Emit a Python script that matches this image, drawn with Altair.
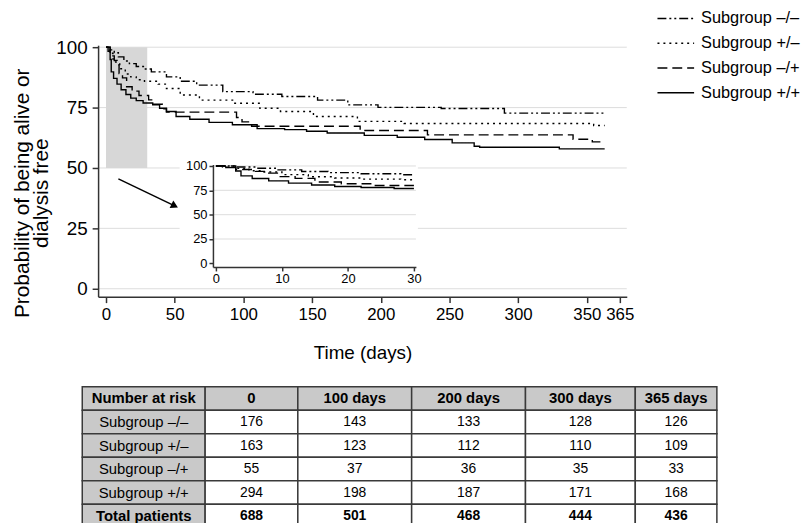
import altair as alt
import pandas as pd

# ---------------- data ----------------
groups = ["Subgroup –/–", "Subgroup +/–", "Subgroup –/+", "Subgroup +/+"]

# Kaplan-Meier step curves: time (days) and % alive or dialysis free
t_mm = [0, 3, 6, 9, 13, 17, 22, 28, 33, 44, 54, 66, 85, 107, 128, 154, 176, 198, 244, 290]
s_mm = [100, 98.9, 97.7, 96.0, 94.3, 93.2, 92.0, 91.0, 89.8, 87.7, 85.9, 84.3, 81.6, 80.5,
        79.6, 78.1, 76.1, 75.1, 74.6, 72.7]

t_pm = [0, 1, 3, 5, 7, 10, 14, 18, 22, 28, 38, 44, 54, 68, 93, 112, 127, 151, 183, 217, 355]
s_pm = [100, 98.8, 97.5, 95.1, 93.8, 91.1, 88.9, 87.7, 86.5, 85.9, 84.7, 82.9, 80.2, 78.1,
        76.8, 74.7, 73.4, 71.3, 69.3, 68.4, 67.6]

t_mp = [0, 3, 6, 8, 9.5, 12, 15, 19, 24, 31, 34, 41, 44, 95, 99, 106, 185, 234, 340, 354]
s_mp = [100, 96.4, 94.5, 92.7, 89.1, 87.3, 83.6, 81.8, 80.0, 78.2, 76.4, 74.5, 73.1, 70.9,
        69.1, 67.3, 65.5, 63.7, 61.9, 60.8]

t_pp = [0, 1.5, 3, 3.8, 5.5, 8, 11, 14.5, 18, 22, 27, 34, 39, 44, 51, 61, 75, 92, 110, 130,
        146, 161, 188, 212, 232, 252, 268, 272, 330]
s_pp = [100, 98.3, 94.9, 89.8, 87.1, 84.7, 82.4, 80.4, 78.9, 77.9, 76.9, 76.1, 74.7, 73.4,
        71.3, 70.2, 68.9, 67.9, 66.3, 65.9, 65.2, 64.5, 63.5, 62.7, 61.8, 60.4, 59.0, 58.6, 57.9]

t_end = 363          # last follow-up day drawn
inset_end = 30       # inset shows the first 30 days

# number-at-risk table
risk_times = ["0", "100 days", "200 days", "300 days", "365 days"]
risk_mm = [176, 143, 133, 128, 126]
risk_pm = [163, 123, 112, 110, 109]
risk_mp = [55, 37, 36, 35, 33]
risk_pp = [294, 198, 187, 171, 168]
risk_total = [688, 501, 468, 444, 436]

x_ticks = [0, 50, 100, 150, 200, 250, 300, 350]
last_tick_label = "365"
y_ticks = [0, 25, 50, 75, 100]
inset_x_ticks = [0, 10, 20, 30]

# annotation: zoom box (days, %) and arrow pointing to the inset
box = {"t0": 0, "t1": 30, "s0": 50, "s1": 100}
arrow = {"t0": 9, "s0": 45.5, "t1": 50, "s1": 34.3}

# ---------------- style / layout ----------------
FONT = "Liberation Sans"
PW, PH = 534, 254                      # main plot area
PAD = {"left": 91, "top": 35, "right": 179, "bottom": 226}
LAST_TICK_POS = 374                    # the reference draws "365" at the axis end
AXC = "#333333"
GRID = "#dddddd"
GRAY = "#c9c9c9"
dashes = [[9, 3, 2, 3, 2, 3], [2, 4], [10, 5], [1, 0]]
COL_W = [122, 92, 113, 113, 109, 81]

main_x = alt.Scale(domain=[-5.77, 379.1], range=[0, PW], nice=False, zero=False)
main_y = alt.Scale(domain=[-3.28, 100.82], range=[PH, 0], nice=False, zero=False)
ins_x = alt.Scale(domain=[-0.45, 30.3], range=[116, 321], nice=False, zero=False)
ins_y = alt.Scale(domain=[-3.7, 101.5], range=[224, 120.5], nice=False, zero=False)
dash_scale = alt.Scale(domain=groups, range=dashes)
leg_x = alt.Scale(domain=[0, 1], range=[565, 602], nice=False, zero=False)
leg_y = alt.Scale(type="point", domain=groups, range=[-27, 48], padding=0)

# ---------------- frames ----------------
series = [(t_mm, s_mm), (t_pm, s_pm), (t_mp, s_mp), (t_pp, s_pp)]
rows = []
ins_rows = []
for g, (ts, ss) in zip(groups, series):
    for t, s in zip(ts, ss):
        rows.append({"group": g, "t": t, "s": s})
    rows.append({"group": g, "t": t_end, "s": ss[-1]})
    last = None
    for t, s in zip(ts, ss):
        if t <= inset_end:
            ins_rows.append({"group": g, "t": t, "s": s})
            last = s
    ins_rows.append({"group": g, "t": inset_end, "s": last})
curves = pd.DataFrame(rows)
ins_curves = pd.DataFrame(ins_rows)

grid_main = pd.DataFrame({"v": y_ticks, "lo": main_x.domain[0], "hi": main_x.domain[1]})
grid_ins = pd.DataFrame({"v": y_ticks[1:], "lo": ins_x.domain[0], "hi": ins_x.domain[1]})
box_df = pd.DataFrame([box])
arrow_df = pd.DataFrame([arrow])
ins_bg = pd.DataFrame([{"t0": -5.5, "t1": 30.6, "s0": -10, "s1": 102}])
legend_df = pd.DataFrame({"group": groups, "a": 0, "b": 1})

# ---------------- main panel ----------------
ax_common = dict(domainColor=AXC, domainWidth=1.5, tickColor=AXC, tickWidth=1.5,
                 labelColor="black", labelFont=FONT, titleFont=FONT, titleColor="black",
                 titleFontWeight="normal", grid=False, zindex=1)

grid_layer = alt.Chart(grid_main).mark_rule(color=GRID, strokeWidth=1).encode(
    x=alt.X("lo:Q", scale=main_x, axis=None), x2="hi:Q",
    y=alt.Y("v:Q", scale=main_y, axis=None))

box_layer = alt.Chart(box_df).mark_rect(color="#d7d7d7").encode(
    x=alt.X("t0:Q", scale=main_x, axis=None), x2="t1:Q",
    y=alt.Y("s0:Q", scale=main_y, axis=None), y2="s1:Q")

main_lines = alt.Chart(curves).mark_line(interpolate="step-after", color="black",
                                         strokeWidth=1.4).encode(
    x=alt.X("t:Q", scale=main_x,
            axis=alt.Axis(values=x_ticks + [LAST_TICK_POS], orient="bottom",
                          title="Time (days)",
                          labelExpr=f"datum.value == {LAST_TICK_POS} ? '{last_tick_label}' : datum.label",
                          labelFontSize=17, titleFontSize=19, tickSize=6, labelPadding=4,
                          titlePadding=21, labelOverlap=False, labelFlush=False,
                          format="d", **ax_common)),
    y=alt.Y("s:Q", scale=main_y,
            axis=alt.Axis(values=y_ticks, orient="left",
                          title=["Probability of being alive or", "dialysis free"],
                          titleFontSize=21, titleLineHeight=20, titleY=149,
                          labelFontSize=19, tickSize=6, labelPadding=5, titlePadding=4,
                          format="d", **ax_common)),
    strokeDash=alt.StrokeDash("group:N", scale=dash_scale, legend=None))

arrow_line = alt.Chart(arrow_df).mark_rule(color="black", strokeWidth=1.5).encode(
    x=alt.X("t0:Q", scale=main_x, axis=None), x2="t1:Q",
    y=alt.Y("s0:Q", scale=main_y, axis=None), y2="s1:Q")
arrow_head = alt.Chart(arrow_df).mark_point(shape="triangle-right", filled=True,
                                            color="black", size=70, angle=26,
                                            opacity=1).encode(
    x=alt.X("t1:Q", scale=main_x, axis=None),
    y=alt.Y("s1:Q", scale=main_y, axis=None))

# ---------------- legend (drawn as marks) ----------------
leg_lines = alt.Chart(legend_df).mark_rule(color="black", strokeWidth=1.5).encode(
    x=alt.X("a:Q", scale=leg_x, axis=None), x2="b:Q",
    y=alt.Y("group:N", scale=leg_y, axis=None),
    strokeDash=alt.StrokeDash("group:N", scale=dash_scale, legend=None))
leg_text = alt.Chart(legend_df).mark_text(font=FONT, fontSize=16.5, color="black",
                                          align="left", baseline="middle", dx=7).encode(
    x=alt.X("b:Q", scale=leg_x, axis=None),
    y=alt.Y("group:N", scale=leg_y, axis=None),
    text="group:N")

# ---------------- inset ----------------
ins_bg_layer = alt.Chart(ins_bg).mark_rect(color="white").encode(
    x=alt.X("t0:Q", scale=ins_x, axis=None), x2="t1:Q",
    y=alt.Y("s0:Q", scale=ins_y, axis=None), y2="s1:Q")
ins_grid = alt.Chart(grid_ins).mark_rule(color=GRID, strokeWidth=1).encode(
    x=alt.X("lo:Q", scale=ins_x, axis=None), x2="hi:Q",
    y=alt.Y("v:Q", scale=ins_y, axis=None))
ins_lines = alt.Chart(ins_curves).mark_line(interpolate="step-after", color="black",
                                            strokeWidth=1.4).encode(
    x=alt.X("t:Q", scale=ins_x,
            axis=alt.Axis(values=inset_x_ticks, orient="bottom", offset=-30, title=None,
                          labelFontSize=13, tickSize=4, labelPadding=2, labelOverlap=False,
                          labelFlush=False, format="d", **ax_common)),
    y=alt.Y("s:Q", scale=ins_y,
            axis=alt.Axis(values=y_ticks, orient="left", offset=-116, title=None,
                          labelFontSize=13, tickSize=4, labelPadding=2, format="d",
                          **ax_common)),
    strokeDash=alt.StrokeDash("group:N", scale=dash_scale, legend=None))

# ---------------- number at risk table ----------------
row_names = ["Number at risk"] + groups + ["Total patients"]
table_rows = [["Number at risk"] + risk_times]
for g, r in zip(groups, [risk_mm, risk_pm, risk_mp, risk_pp]):
    table_rows.append([g] + [str(v) for v in r])
table_rows.append(["Total patients"] + [str(v) for v in risk_total])

edges = [0]
for w in COL_W:
    edges.append(edges[-1] + w)
cells = []
for i, row in enumerate(table_rows):
    for j, lab in enumerate(row):
        cells.append({"row": row_names[i], "x0": edges[j], "x1": edges[j + 1],
                      "xc": (edges[j] + edges[j + 1]) / 2, "label": lab,
                      "fill": GRAY if (i == 0 or j == 0) else "white",
                      "bold": (i == 0 or i == len(table_rows) - 1),
                      "fs": 15 if (i == 0 or j == 0) else 14})
cells = pd.DataFrame(cells)

tx = alt.Scale(domain=[0, edges[-1]], range=[-16, 625], nice=False, zero=False)
ty = alt.Scale(domain=row_names, range=[345, 487.5], paddingInner=0, paddingOuter=0)

t_rect = alt.Chart(cells).mark_rect(stroke="#3a3a3a", strokeWidth=1.5).encode(
    x=alt.X("x0:Q", scale=tx, axis=None), x2="x1:Q",
    y=alt.Y("row:N", scale=ty, axis=None),
    fill=alt.Fill("fill:N", scale=None))
t_text = alt.Chart(cells).mark_text(font=FONT, color="black", baseline="middle",
                                    align="center").encode(
    x=alt.X("xc:Q", scale=tx, axis=None),
    y=alt.Y("row:N", scale=ty, axis=None),
    text="label:N", size=alt.Size("fs:Q", scale=None)
).transform_filter("!datum.bold")
t_bold = alt.Chart(cells).mark_text(font=FONT, color="black", baseline="middle",
                                    align="center", fontWeight="bold").encode(
    x=alt.X("xc:Q", scale=tx, axis=None),
    y=alt.Y("row:N", scale=ty, axis=None),
    text="label:N", size=alt.Size("fs:Q", scale=None)
).transform_filter("datum.bold")

chart = alt.layer(
    grid_layer, box_layer, main_lines, arrow_line, arrow_head,
    leg_lines, leg_text,
    ins_bg_layer, ins_grid, ins_lines,
    t_rect, t_text, t_bold
).resolve_scale(
    x="independent", y="independent"
).properties(
    width=PW, height=PH, autosize=alt.AutoSizeParams(type="none"), padding=PAD,
    background="white"
).configure_view(stroke=None)

chart.save("out.html", embed_options={"renderer": "svg", "actions": False})
